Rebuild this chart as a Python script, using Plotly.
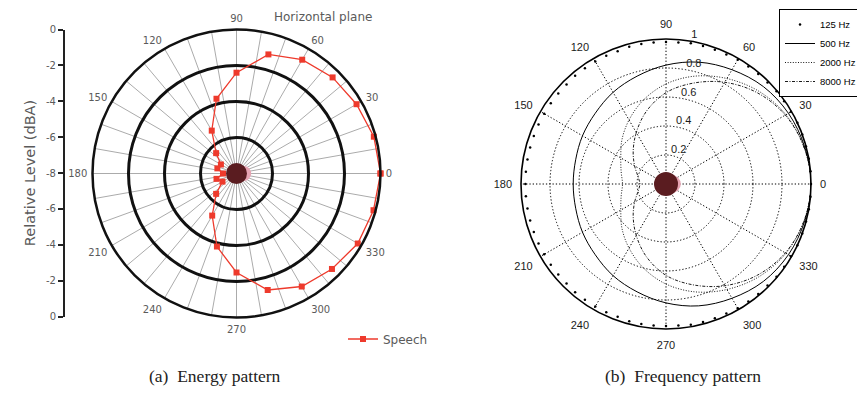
import plotly.graph_objects as go

# ---------------- data: (a) energy pattern ----------------
speech_angle = [0, 15, 30, 45, 60, 75, 90, 105, 120, 135, 150, 165, 180,
                195, 210, 225, 240, 255, 270, 285, 300, 315, 330, 345, 360]
speech_db = [0.0, -0.1, -0.3, -0.45, -0.7, -1.15, -2.4, -3.7, -5.25, -6.4, -7.0, -6.9, -7.25,
             -6.85, -7.1, -6.4, -5.3, -3.8, -2.5, -1.3, -0.75, -0.5, -0.22, -0.12, 0.0]
level_rings = [-6, -4, -2, 0]
level_tick_pos = [8, 6, 4, 2, 0, -2, -4, -6, -8]
level_tick_text = ["0", "-2", "-4", "-6", "-8", "-6", "-4", "-2", "0"]
spoke_angles = list(range(0, 360, 10))
angle_labels = [str(a) if a % 30 == 0 else "" for a in spoke_angles]

# ---------------- data: (b) frequency pattern ----------------
freq_angle = [0, 15, 30, 45, 60, 75, 90, 105, 120, 135, 150, 165, 180,
              195, 210, 225, 240, 255, 270, 285, 300, 315, 330, 345, 360]
r_500 = [1.0, 0.99, 0.975, 0.95, 0.91, 0.87, 0.82, 0.77, 0.73, 0.69, 0.665, 0.645, 0.64,
         0.645, 0.665, 0.69, 0.73, 0.77, 0.82, 0.87, 0.91, 0.95, 0.975, 0.99, 1.0]
r_2000 = [1.0, 0.985, 0.955, 0.905, 0.84, 0.77, 0.69, 0.60, 0.51, 0.43, 0.36, 0.32, 0.30,
          0.32, 0.36, 0.43, 0.51, 0.60, 0.69, 0.77, 0.84, 0.905, 0.955, 0.985, 1.0]
r_8000 = [1.0, 0.985, 0.95, 0.89, 0.81, 0.72, 0.63, 0.52, 0.41, 0.32, 0.25, 0.20, 0.18,
          0.20, 0.25, 0.32, 0.41, 0.52, 0.63, 0.72, 0.81, 0.89, 0.95, 0.985, 1.0]
dot_angle = list(range(0, 360, 5))
r_125 = [1.0, 1.0, 1.0, 1.0, 1.0, 1.0, 0.995, 0.995, 0.995, 0.99, 0.99, 0.99,
         0.99, 0.985, 0.985, 0.985, 0.985, 0.98, 0.98, 0.98, 0.98, 0.98, 0.975, 0.975,
         0.975, 0.975, 0.975, 0.97, 0.97, 0.97, 0.97, 0.97, 0.97, 0.97, 0.97, 0.97,
         0.97, 0.97, 0.97, 0.97, 0.97, 0.97, 0.97, 0.97, 0.97, 0.97, 0.975, 0.975,
         0.975, 0.975, 0.975, 0.98, 0.98, 0.98, 0.98, 0.98, 0.985, 0.985, 0.985, 0.985,
         0.99, 0.99, 0.99, 0.99, 0.995, 0.995, 0.995, 1.0, 1.0, 1.0, 1.0, 1.0]
freq_rings = [0.2, 0.4, 0.6, 0.8, 1.0]
freq_ring_text = ["0.2", "0.4", "0.6", "0.8", "1"]
freq_angles = list(range(0, 360, 30))
ring_label_angle = 80

W, H = 865, 394
OFF = 8  # page body margin of the browser


def px(sx):
    return (sx - OFF) / W


def py(sy):
    return (H - (sy - OFF)) / H


GRAY = "#5a5a5a"
HEAD_DARK = "#5a1c20"
HEAD_PINK = "#e6a3b2"

fig = go.Figure()

# ---------- (a) ----------
fig.add_trace(go.Scatterpolar(
    r=speech_db, theta=speech_angle, mode="lines+markers", name="Speech",
    line=dict(color="#ee3a2c", width=1.3),
    marker=dict(symbol="square", size=6, color="#ee3a2c"),
    subplot="polar", legend="legend"))
# head (decoration)
fig.add_trace(go.Scatterpolar(r=[-7.6], theta=[0], mode="markers", showlegend=False,
                              marker=dict(size=15, color=HEAD_PINK), subplot="polar", hoverinfo="skip"))
fig.add_trace(go.Scatterpolar(r=[-8], theta=[0], mode="markers", showlegend=False,
                              marker=dict(size=21, color=HEAD_DARK), subplot="polar", hoverinfo="skip"))
# carrier for the left level axis
fig.add_trace(go.Scatter(x=[0], y=[0], mode="markers", marker=dict(opacity=0),
                         showlegend=False, hoverinfo="skip", xaxis="x", yaxis="y"))

# ---------- (b) ----------
fig.add_trace(go.Scatterpolar(r=r_125, theta=dot_angle, mode="markers", name="125 Hz",
                              marker=dict(size=2.5, color="black"), subplot="polar2", legend="legend2"))
fig.add_trace(go.Scatterpolar(r=r_500, theta=freq_angle, mode="lines", name="500 Hz",
                              line=dict(color="black", width=1, shape="spline"),
                              subplot="polar2", legend="legend2"))
fig.add_trace(go.Scatterpolar(r=r_2000, theta=freq_angle, mode="lines", name="2000 Hz",
                              line=dict(color="black", width=0.9, dash="1px,1.6px", shape="spline"),
                              subplot="polar2", legend="legend2"))
fig.add_trace(go.Scatterpolar(r=r_8000, theta=freq_angle, mode="lines", name="8000 Hz",
                              line=dict(color="black", width=0.9, dash="3px,1.5px,1px,1.5px",
                                        shape="spline"),
                              subplot="polar2", legend="legend2"))
fig.add_trace(go.Scatterpolar(r=[0.04], theta=[0], mode="markers", showlegend=False,
                              marker=dict(size=18, color=HEAD_PINK), subplot="polar2", hoverinfo="skip"))
fig.add_trace(go.Scatterpolar(r=[0], theta=[0], mode="markers", showlegend=False,
                              marker=dict(size=24, color=HEAD_DARK), subplot="polar2", hoverinfo="skip"))
# ring labels (MATLAB style, along ~80 deg)
fig.add_trace(go.Scatterpolar(r=freq_rings,
                              theta=[ring_label_angle] * len(freq_rings),
                              mode="text", text=freq_ring_text, textposition="top right",
                              textfont=dict(family="Liberation Sans", size=11, color="#1a1a1a"),
                              showlegend=False, hoverinfo="skip", subplot="polar2", cliponaxis=False))

left_font = dict(family="DejaVu Sans", size=10, color=GRAY)
right_font = dict(family="Liberation Sans", size=11, color="#1a1a1a")
GRID_DASH = "1.3px,2px"
CAPTION_FONT = dict(family="Liberation Serif", size=17.5, color="#222")

fig.update_layout(
    width=W, height=H, margin=dict(l=0, r=0, t=0, b=0, autoexpand=False),
    paper_bgcolor="white", plot_bgcolor="white",
    polar=dict(
        domain=dict(x=[px(92.5), px(380.5)], y=[py(317.5), py(29.5)]),
        bgcolor="white",
        radialaxis=dict(range=[-8, 0], tickvals=level_rings, showticklabels=False,
                        ticks="", showline=False, gridcolor="#111", gridwidth=2.5),
        angularaxis=dict(tickvals=spoke_angles, ticktext=angle_labels, ticks="outside",
                         ticklen=2, tickcolor="rgba(0,0,0,0)",
                         gridcolor="#ababab", gridwidth=1, showline=True,
                         linecolor="#111", linewidth=2.5, tickfont=left_font),
    ),
    polar2=dict(
        domain=dict(x=[px(521), px(811)], y=[py(329), py(39)]),
        bgcolor="white",
        radialaxis=dict(range=[0, 1], tickvals=freq_rings, showticklabels=False,
                        ticks="", showline=False,
                        gridcolor="black", gridwidth=1.3, griddash=GRID_DASH),
        angularaxis=dict(tickvals=freq_angles, ticks="outside", ticklen=6,
                         tickcolor="rgba(0,0,0,0)", gridcolor="black", gridwidth=1.3,
                         griddash=GRID_DASH, showline=True, linecolor="black", linewidth=1.6,
                         tickfont=right_font),
    ),
    xaxis=dict(domain=[px(65), px(66)], visible=False, range=[0, 1]),
    yaxis=dict(domain=[py(316.5), py(29.5)], range=[-8, 8],
               tickvals=level_tick_pos, ticktext=level_tick_text,
               showline=True, linecolor="#222", linewidth=2, ticks="outside",
               ticklen=5, tickwidth=2, tickcolor="#222", showgrid=False, zeroline=False,
               tickfont=dict(family="DejaVu Sans", size=10, color=GRAY),
               title=dict(text="Relative Level (dBA)", standoff=7,
                          font=dict(family="DejaVu Sans", size=14.5, color=GRAY))),
    legend=dict(x=px(343), y=py(339), xanchor="left", yanchor="middle",
                bgcolor="rgba(0,0,0,0)", font=dict(family="DejaVu Sans", size=12, color=GRAY)),
    legend2=dict(x=px(779), y=py(9), xanchor="left", yanchor="top",
                 bgcolor="white", bordercolor="black", borderwidth=1, itemwidth=30,
                 font=dict(family="Liberation Sans", size=9.5, color="black"),
                 tracegroupgap=0),
    annotations=[
        dict(text="Horizontal plane", x=px(323), y=py(17), xref="paper", yref="paper",
             xanchor="center", yanchor="middle", showarrow=False,
             font=dict(family="DejaVu Sans", size=12, color=GRAY)),
        dict(text="(a)\u2002Energy pattern", x=px(215), y=py(376), xref="paper", yref="paper",
             xanchor="center", yanchor="middle", showarrow=False, font=CAPTION_FONT),
        dict(text="(b)\u2002Frequency pattern", x=px(683), y=py(376), xref="paper", yref="paper",
             xanchor="center", yanchor="middle", showarrow=False, font=CAPTION_FONT),
    ],
)

fig.write_html("out.html")
